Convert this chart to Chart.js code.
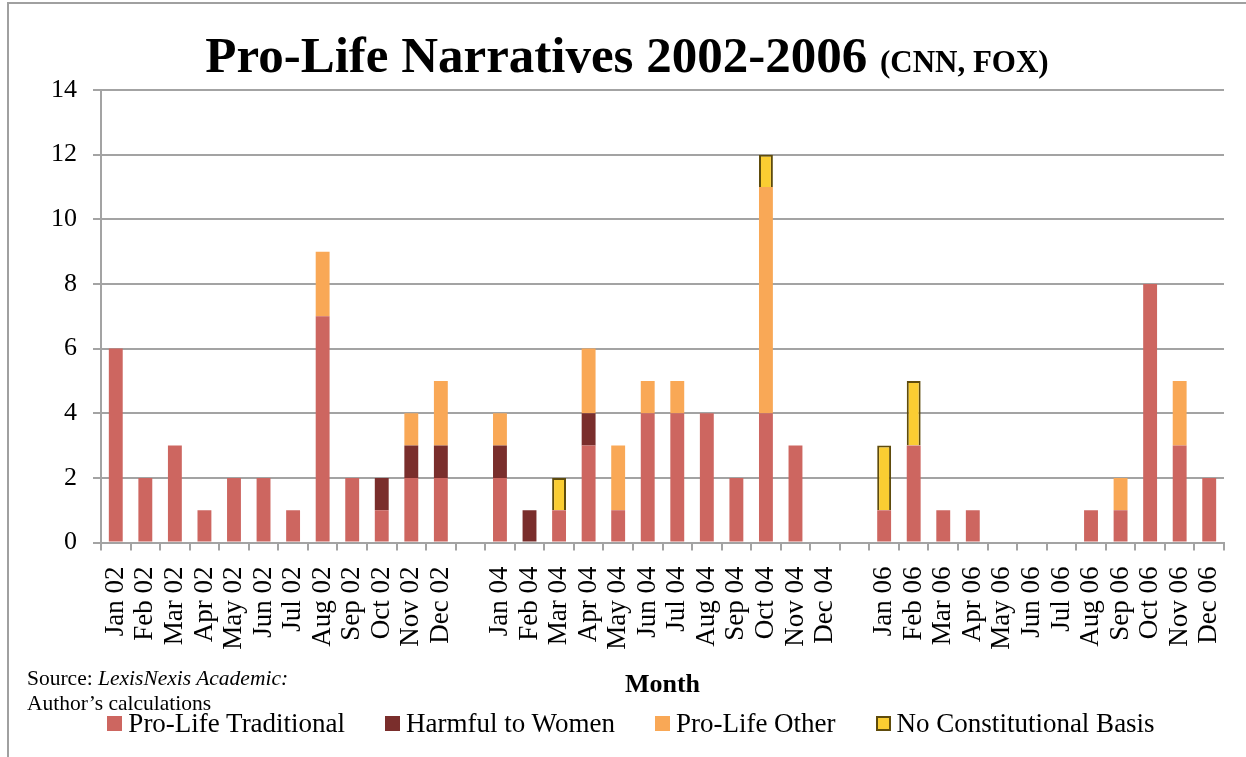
<!DOCTYPE html>
<html>
<head>
<meta charset="utf-8">
<script src="https://cdn.jsdelivr.net/npm/chart.js@4.4.1/dist/chart.umd.min.js"></script>
<style>
  html, body { margin: 0; padding: 0; background: #fff; }
  #wrap { position: relative; width: 1246px; height: 757px; overflow: hidden; }
  #frame { position: absolute; left: 7px; top: 2px; width: 1300px; height: 800px;
           border-left: 2px solid #a0a0a0; border-top: 2px solid #a0a0a0; }
  #title { position: absolute; left: 0; width: 1246px; top: 26px; text-align: center;
           font-family: "Liberation Serif", serif; font-weight: bold; font-size: 51px; color: #000;
           padding-left: 8px; box-sizing: border-box; }
  #title span { font-size: 31px; }
  #source { position: absolute; left: 27px; top: 666px; font-family: "Liberation Serif", serif;
            font-size: 21.5px; line-height: 25px; color: #000; }
  #legend { position: absolute; left: 0; width: 1246px; top: 707px; display: flex; justify-content: center;
            padding-left: 16px; box-sizing: border-box;
            font-family: "Liberation Serif", serif; font-size: 27px; line-height: 32px; color: #000; }
  #legend .item { display: flex; align-items: center; margin: 0 20px; }
  #legend .box { width: 15px; height: 15px; margin-right: 6px; box-sizing: border-box; }
  canvas { position: absolute; left: 0; top: 0; }
</style>
</head>
<body>
<div id="wrap">
  <div id="frame"></div>
  <canvas id="chart" width="1246" height="757"></canvas>
  <div id="title">Pro-Life Narratives 2002-2006 <span>(CNN, FOX)</span></div>
  <div id="source">Source: <i>LexisNexis Academic:</i><br>Author’s calculations</div>
  <div id="legend"></div>
</div>
<script>
// months, with an empty slot between the years
const months = [
  'Jan 02', 'Feb 02', 'Mar 02', 'Apr 02', 'May 02', 'Jun 02', 'Jul 02', 'Aug 02', 'Sep 02', 'Oct 02', 'Nov 02', 'Dec 02',
  '',
  'Jan 04', 'Feb 04', 'Mar 04', 'Apr 04', 'May 04', 'Jun 04', 'Jul 04', 'Aug 04', 'Sep 04', 'Oct 04', 'Nov 04', 'Dec 04',
  '',
  'Jan 06', 'Feb 06', 'Mar 06', 'Apr 06', 'May 06', 'Jun 06', 'Jul 06', 'Aug 06', 'Sep 06', 'Oct 06', 'Nov 06', 'Dec 06'
];

const proLifeTraditional = [6, 2, 3, 1, 2, 2, 1, 7, 2, 1, 2, 2, null,
  2, 0, 1, 3, 1, 4, 4, 4, 2, 4, 3, 0, null,
  1, 3, 1, 1, 0, 0, 0, 1, 1, 8, 3, 2];
const harmfulToWomen = [0, 0, 0, 0, 0, 0, 0, 0, 0, 1, 1, 1, null,
  1, 1, 0, 1, 0, 0, 0, 0, 0, 0, 0, 0, null,
  0, 0, 0, 0, 0, 0, 0, 0, 0, 0, 0, 0];
const proLifeOther = [0, 0, 0, 0, 0, 0, 0, 2, 0, 0, 1, 2, null,
  1, 0, 0, 2, 2, 1, 1, 0, 0, 7, 0, 0, null,
  0, 0, 0, 0, 0, 0, 0, 0, 1, 0, 2, 0];
const noConstitutionalBasis = [0, 0, 0, 0, 0, 0, 0, 0, 0, 0, 0, 0, null,
  0, 0, 1, 0, 0, 0, 0, 0, 0, 1, 0, 0, null,
  2, 2, 0, 0, 0, 0, 0, 0, 0, 0, 0, 0];

const yTicks = [0, 2, 4, 6, 8, 10, 12, 14];

const gridGray = '#a3a3a3';
const serif = 'Liberation Serif';

const ctx = document.getElementById('chart').getContext('2d');
const chart = new Chart(ctx, {
  type: 'bar',
  data: {
    labels: months,
    datasets: [
      { label: 'Pro-Life Traditional', data: proLifeTraditional, backgroundColor: '#cd6660', borderWidth: 0 },
      { label: 'Harmful to Women', data: harmfulToWomen, backgroundColor: '#7a2e2c', borderWidth: 0 },
      { label: 'Pro-Life Other', data: proLifeOther, backgroundColor: '#f9a856', borderWidth: 0 },
      { label: 'No Constitutional Basis', data: noConstitutionalBasis, backgroundColor: '#facd32',
        borderColor: '#5e4b0c', borderWidth: 2 }
    ]
  },
  options: {
    responsive: false,
    animation: false,
    layout: { padding: { left: 35, right: 22, top: 90, bottom: 56 } },
    datasets: { bar: { barPercentage: 0.47, categoryPercentage: 1 } },
    plugins: {
      tooltip: { enabled: false },
      legend: { display: false }
    },
    scales: {
      x: {
        stacked: true,
        grid: { drawOnChartArea: false, offset: true, color: gridGray, lineWidth: 2, tickLength: 8 },
        border: { color: gridGray, width: 2 },
        ticks: {
          color: '#000', font: { family: serif, size: 27 },
          minRotation: 90, maxRotation: 90, autoSkip: false, padding: 16
        },
        // rotated labels should not push the plot in from the sides
        afterFit: (scale) => { scale.paddingLeft = 0; scale.paddingRight = 0; },
        title: { display: true, text: 'Month', color: '#000', font: { family: serif, size: 26, weight: 'bold' }, padding: { top: 4, bottom: 0 } }
      },
      y: {
        stacked: true,
        min: 0,
        max: 14,
        afterBuildTicks: (axis) => { axis.ticks = yTicks.map(v => ({ value: v })); },
        grid: { color: gridGray, lineWidth: 2, tickLength: 8 },
        border: { color: gridGray, width: 2 },
        ticks: { color: '#000', font: { family: serif, size: 26 }, padding: 16 }
      }
    }
  }
});

// legend built from the chart's datasets
const legendEl = document.getElementById('legend');
chart.data.datasets.forEach(ds => {
  const item = document.createElement('div');
  item.className = 'item';
  const box = document.createElement('span');
  box.className = 'box';
  box.style.background = ds.backgroundColor;
  if (ds.borderWidth) box.style.border = ds.borderWidth + 'px solid ' + ds.borderColor;
  item.appendChild(box);
  item.appendChild(document.createTextNode(ds.label));
  legendEl.appendChild(item);
});
</script>
</body>
</html>
